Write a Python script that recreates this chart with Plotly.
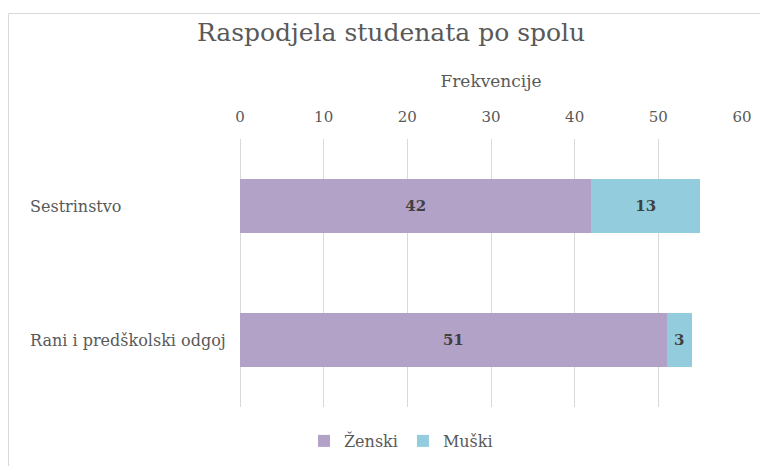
import plotly.graph_objects as go

categories = ["Sestrinstvo", "Rani i predškolski odgoj"]
zenski = [42, 51]
muski = [13, 3]
series_names = ["Ženski", "Muški"]
x_ticks = [0, 10, 20, 30, 40, 50, 60]

FONT = "DejaVu Serif"
TXT = "#595959"
W, H = 760, 466
L, R, T, B = 240, 18, 139, 59
pw, ph = W - L - R, H - T - B

def px_x(px):
    return (px - L) / pw

def px_y(py):
    return (H - B - py) / ph

fig = go.Figure()
fig.add_trace(go.Bar(
    y=categories, x=zenski, name=series_names[0], orientation="h",
    marker=dict(color="#B3A2C7", line=dict(color="#B3A2C7", width=0)),
    text=zenski, textposition="inside", insidetextanchor="middle",
    textfont=dict(family=FONT, size=15, color="#404040", weight="bold"),
))
fig.add_trace(go.Bar(
    y=categories, x=muski, name=series_names[1], orientation="h",
    marker=dict(color="#93CDDD", line=dict(color="#93CDDD", width=0)),
    text=muski, textposition="inside", insidetextanchor="middle",
    textfont=dict(family=FONT, size=15, color="#404040", weight="bold"),
))

for c in categories:
    fig.add_annotation(x=px_x(28), xref="paper", y=c, yref="y", text=c,
                       xanchor="left", showarrow=False,
                       font=dict(family=FONT, size=16, color=TXT))

fig.update_layout(
    width=W, height=H,
    margin=dict(l=L, r=R, t=T, b=B, autoexpand=False),
    barmode="stack", bargap=0.59,
    plot_bgcolor="white", paper_bgcolor="white",
    font=dict(family=FONT, color=TXT, size=14),
    title=dict(text="Raspodjela studenata po spolu", x=391 / W, xanchor="center",
               y=1 - 32 / H, yanchor="middle",
               font=dict(family=FONT, size=25, color=TXT)),
    xaxis=dict(side="top", range=[0, 60], tickvals=x_ticks, showgrid=True,
               automargin=False,
               gridcolor="#D9D9D9", gridwidth=1, zeroline=True,
               zerolinecolor="#D9D9D9", zerolinewidth=1, showline=False,
               ticks="", ticklabelstandoff=13,
               tickfont=dict(family=FONT, size=15, color=TXT),
               title=dict(text="Frekvencije", font=dict(family=FONT, size=17, color=TXT),
                          standoff=16)),
    yaxis=dict(autorange="reversed", showticklabels=False, showgrid=False,
               automargin=False,
               zeroline=False, showline=False, ticks=""),
    legend=dict(orientation="h", x=px_x(304), xanchor="left", y=px_y(441),
                yanchor="middle", font=dict(family=FONT, size=16, color=TXT),
                traceorder="normal"),
    showlegend=True,
    shapes=[
        dict(type="line", xref="paper", yref="paper", x0=px_x(8.5), x1=px_x(8.5),
             y0=px_y(13.5), y1=px_y(480), line=dict(color="#D9D9D9", width=1)),
        dict(type="line", xref="paper", yref="paper", x0=px_x(8.5), x1=px_x(780),
             y0=px_y(13.5), y1=px_y(13.5), line=dict(color="#D9D9D9", width=1)),
    ],
)

fig.write_html("out.html")
